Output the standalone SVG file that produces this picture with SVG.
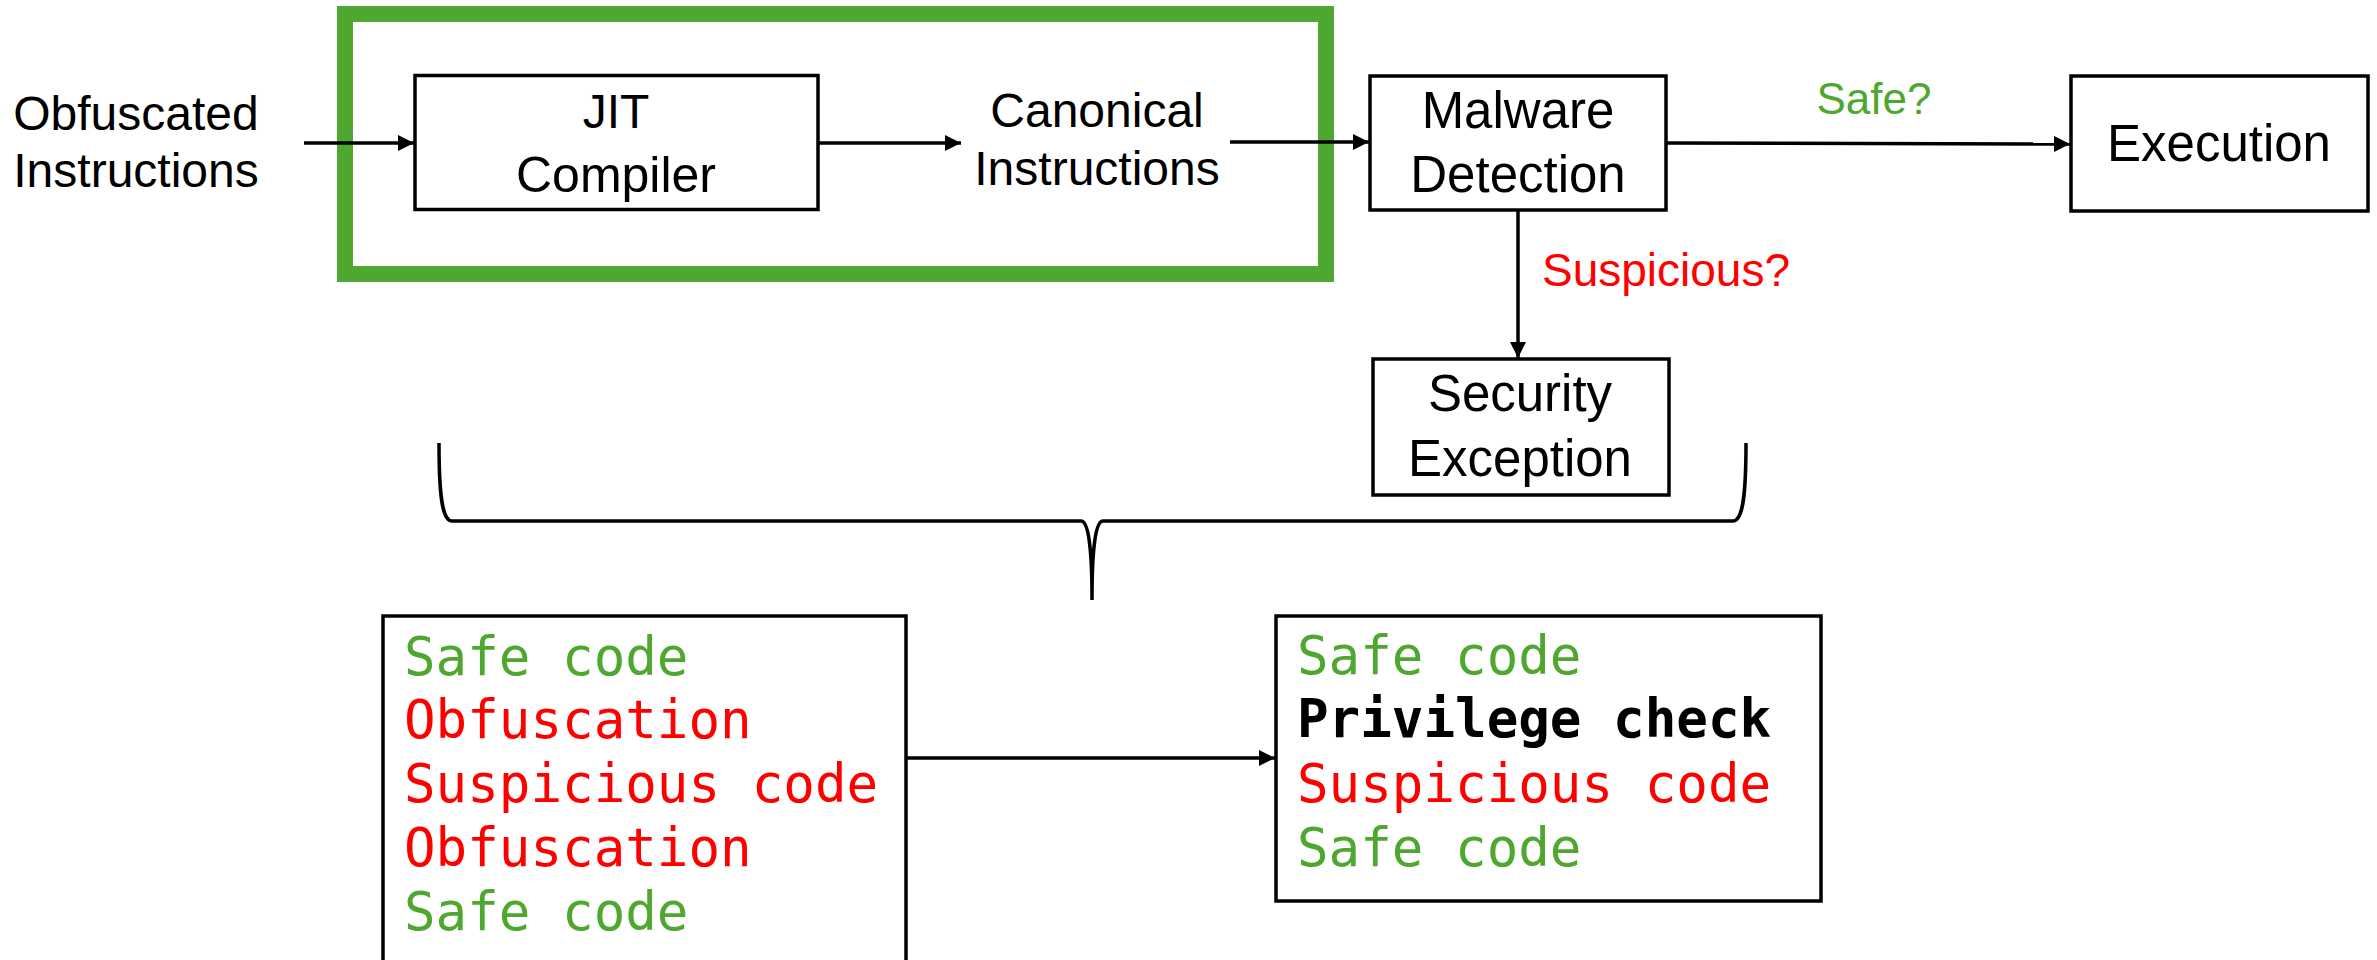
<svg xmlns="http://www.w3.org/2000/svg" width="2377" height="960" viewBox="0 0 2377 960">
<style>
.box{fill:#fff;stroke:#000;stroke-width:3.5}
.lbl{font-family:"Liberation Sans",Arial,sans-serif;fill:#000;text-anchor:middle}
.code{font-family:"DejaVu Sans Mono","Liberation Mono",monospace;font-size:52.5px}
.g{fill:#4EA72E}
.r{fill:#FF0000}
.k{fill:#000;font-weight:bold}
.conn{fill:none;stroke:#000;stroke-width:3.5}
</style>
<defs>
<marker id="ah" markerUnits="userSpaceOnUse" markerWidth="18" markerHeight="16" refX="16" refY="8" orient="auto">
<path d="M0,0 L16,8 L0,16 Z" fill="#000"/>
</marker>
</defs>
<rect width="2377" height="960" fill="#fff"/>
<g id="frame">
<rect x="345" y="14" width="981" height="260" fill="none" stroke="#4EA72E" stroke-width="16"/>
</g>
<g id="obfuscated">
<text class="lbl" font-size="48" x="136" y="130">Obfuscated</text>
<text class="lbl" font-size="48" x="136" y="187">Instructions</text>
</g>
<g id="jit">
<rect class="box" x="415" y="75.5" width="403" height="134"/>
<text class="lbl" font-size="48" x="616" y="128">JIT</text>
<text class="lbl" font-size="50" x="616" y="192">Compiler</text>
</g>
<g id="canonical">
<text class="lbl" font-size="48" x="1097" y="127">Canonical</text>
<text class="lbl" font-size="48" x="1097" y="185">Instructions</text>
</g>
<g id="malware">
<rect class="box" x="1370" y="76" width="296" height="134"/>
<text class="lbl" font-size="51" x="1518" y="128">Malware</text>
<text class="lbl" font-size="51" x="1518" y="192">Detection</text>
</g>
<g id="execution">
<rect class="box" x="2071" y="76" width="297" height="135"/>
<text class="lbl" font-size="51" x="2219" y="161">Execution</text>
</g>
<g id="security">
<rect class="box" x="1373" y="359" width="296" height="136"/>
<text class="lbl" font-size="51" x="1520" y="411">Security</text>
<text class="lbl" font-size="51" x="1520" y="476">Exception</text>
</g>
<g id="code-before">
<rect class="box" x="383" y="616" width="523" height="360"/>
<text class="code g" x="404" y="675">Safe code</text>
<text class="code r" x="404" y="738">Obfuscation</text>
<text class="code r" x="404" y="802">Suspicious code</text>
<text class="code r" x="404" y="866">Obfuscation</text>
<text class="code g" x="404" y="930">Safe code</text>
</g>
<g id="code-after">
<rect class="box" x="1276" y="616" width="545" height="285"/>
<text class="code g" x="1297" y="674">Safe code</text>
<text class="code k" x="1297" y="737">Privilege check</text>
<text class="code r" x="1297" y="802">Suspicious code</text>
<text class="code g" x="1297" y="866">Safe code</text>
</g>
<g id="connectors">
<path class="conn" d="M304,143 L414,143" marker-end="url(#ah)"/>
<path class="conn" d="M818,143 L961,143" marker-end="url(#ah)"/>
<path class="conn" d="M1230,142 L1369,142" marker-end="url(#ah)"/>
<path class="conn" d="M1667,143 L2070,144" marker-end="url(#ah)"/>
<path class="conn" d="M1518,211 L1518,358" marker-end="url(#ah)"/>
<path class="conn" d="M907,758 L1275,758" marker-end="url(#ah)"/>
<path class="conn" d="M439,443 C439,495 442,521 452,521 L1081,521 C1088,521 1092,545 1092,600 C1092,545 1096,521 1103,521 L1733,521 C1743,521 1746,495 1746,443"/>
<text x="1874" y="114" font-family="Liberation Sans,Arial,sans-serif" font-size="44" text-anchor="middle" fill="#4EA72E">Safe?</text>
<text x="1542" y="286" font-family="Liberation Sans,Arial,sans-serif" font-size="46" fill="#FF0000">Suspicious?</text>
</g>
</svg>
